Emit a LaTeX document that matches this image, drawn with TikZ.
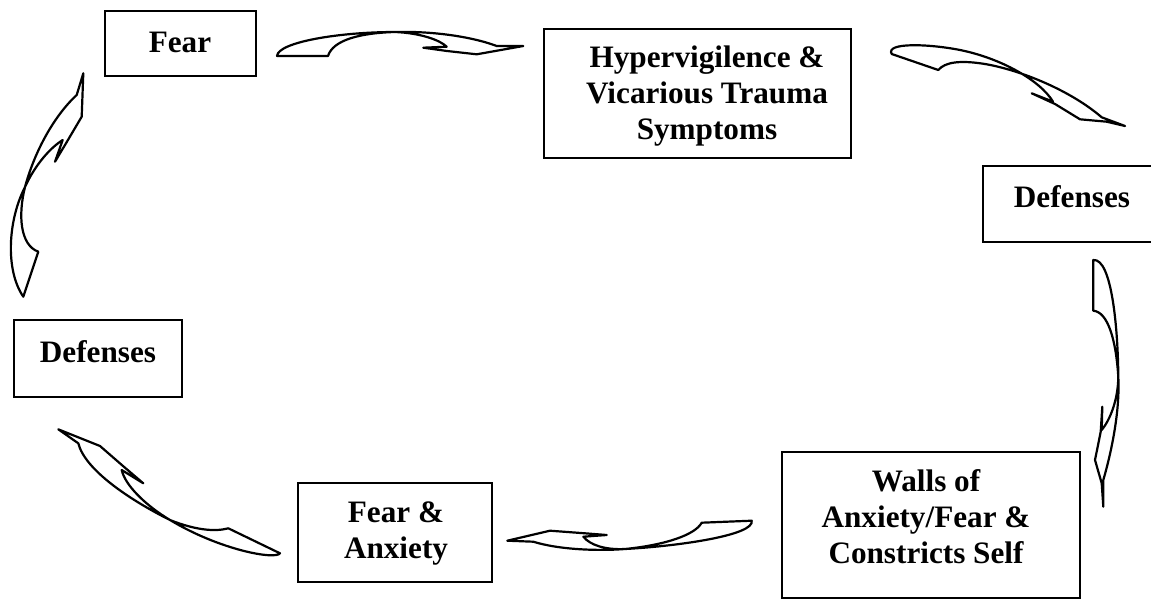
\documentclass[tikz,border=0pt]{standalone}
\usepackage{fontspec}
\setmainfont{Liberation Serif}
\begin{document}
\begin{tikzpicture}[x=1pt,y=-1pt,
  box/.style={draw, line width=2.1pt, inner sep=0pt},
  txt/.style={font=\fontsize{31.2}{36}\selectfont\bfseries, align=center, inner sep=0pt},
  ribbon/.style={draw, line width=2.2pt, line join=round, fill=white}]
\useasboundingbox (0,0) rectangle (1151,600);
\fill[white] (0,0) rectangle (1151,600);
\clip (0,0) rectangle (1151,600);

% boxes
\node[box, minimum width=151pt, minimum height=65pt] (fearbox) at (180.5,43.5) {};
\node[box, minimum width=307pt, minimum height=129pt] (hypbox) at (697.5,93.5) {};
\node[box, minimum width=182pt, minimum height=76pt] (defrbox) at (1074,204) {};
\node[box, minimum width=168pt, minimum height=77pt] (deflbox) at (98,358.5) {};
\node[box, minimum width=194pt, minimum height=99pt] (fabox) at (395,532.5) {};
\node[box, minimum width=298pt, minimum height=146pt] (wallsbox) at (931,525) {};

% texts
\node[txt] (fear) at (180,42) {Fear};
\node[txt] (hyp) at (707,96) {Hypervigilence \&\\Vicarious Trauma\\Symptoms};
\node[txt] (defr) at (1072,197) {Defenses};
\node[txt] (defl) at (98,352) {Defenses};
\node[txt] (fa) at (396,533.5) {Fear \&\\Anxiety};
\node[txt] (walls) at (926,517) {Walls of\\Anxiety/Fear \&\\Constricts Self};

% arrow 1: Fear -> Hypervigilence
\draw[ribbon] (277,56) .. controls (278,42) and (340,32) .. (395,32)
  .. controls (420,33) and (440,40) .. (446.7,46.7) -- (423.3,47.7) -- (447,51)
  -- (476.7,54.3) -- (523.3,46) -- (496.7,46)
  .. controls (470,36) and (430,31) .. (395,32)
  .. controls (360,33) and (333,40) .. (328,56) -- cycle;

% arrow 2: Hypervigilence -> Defenses (right)
\draw[ribbon] (891.7,54) .. controls (885,42) and (930,44) .. (960,50)
  .. controls (1000,58) and (1040,80) .. (1053,101.7) -- (1031.7,93.3) -- (1055,104)
  -- (1080,119.3) -- (1106.7,121.7) -- (1125,126) -- (1101.7,117.3)
  .. controls (1070,90) and (1020,70) .. (985,64)
  .. controls (960,60) and (945,62) .. (938.3,70) -- cycle;

% arrow 3: Defenses (right) -> Walls
\draw[ribbon] (1093.3,260) .. controls (1112,258) and (1118,330) .. (1118.3,377)
  .. controls (1118,400) and (1110,420) .. (1101.7,430) -- (1102.3,406.7) -- (1100.7,431.7)
  -- (1095,460) -- (1101.7,483.3) -- (1103.3,506.7) -- (1103.3,480)
  .. controls (1112,450) and (1120,410) .. (1118.3,377)
  .. controls (1116,340) and (1108,312) .. (1093.3,310.7) -- cycle;

% arrow 4: Walls -> Fear & Anxiety
\draw[ribbon] (751.7,520.7) .. controls (755,535) and (680,546) .. (625,549)
  .. controls (605,550) and (590,545) .. (583.3,536.7) -- (606.7,535) -- (585,533.3)
  -- (550,530.7) -- (507.3,540.7) -- (533.3,541.7)
  .. controls (560,550) and (600,551) .. (625,549)
  .. controls (665,545) and (695,535) .. (701.7,522.7) -- cycle;

% arrow 5: Fear & Anxiety -> Defenses (left)
\draw[ribbon] (280,553.3) .. controls (275,560) and (220,550) .. (170,520)
  .. controls (145,505) and (125,485) .. (121.7,470) -- (143.3,483.3) -- (123,466)
  -- (100,446) -- (58.3,429.3) -- (78.3,443.3)
  .. controls (85,470) and (130,500) .. (170,520)
  .. controls (195,530) and (215,532) .. (228.3,528.3) -- cycle;

% arrow 6: Defenses (left) -> Fear
\draw[ribbon] (23.3,296.7) .. controls (5,270) and (8,220) .. (25,187)
  .. controls (35,165) and (50,148) .. (62.7,140) -- (55,161.7) -- (65,145)
  -- (81.7,116.7) -- (83.3,73.3) -- (76.7,95)
  .. controls (55,115) and (35,150) .. (25,187)
  .. controls (18,215) and (20,245) .. (38.3,251.7) -- cycle;
\end{tikzpicture}
\end{document}
